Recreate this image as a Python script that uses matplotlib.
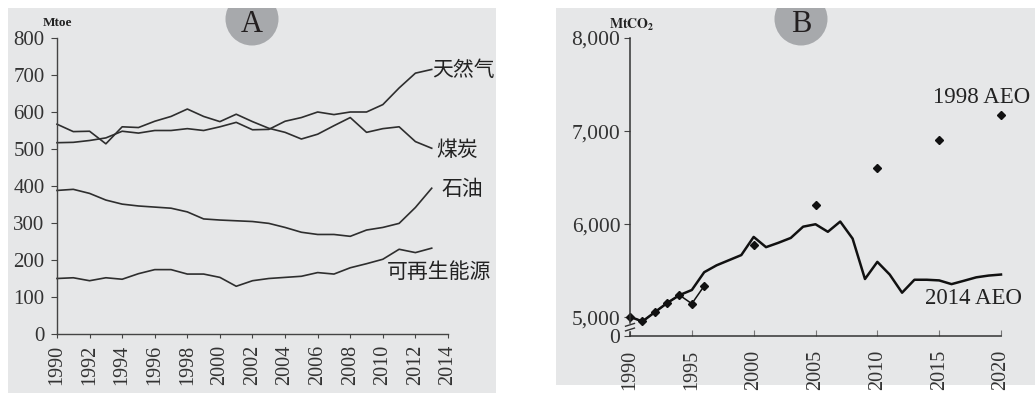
import numpy as np
import matplotlib
matplotlib.use("Agg")
import matplotlib.pyplot as plt
from matplotlib.patches import Rectangle, Circle

plt.rcParams['mathtext.fontset'] = 'stix'

# panel A: energy use (Mtoe)
years_a = list(range(1990, 2014))
gas = [517, 518, 523, 530, 548, 543, 550, 550, 555, 550, 560, 572,
       552, 553, 575, 585, 600, 593, 600, 600, 620, 665, 705, 715]
coal = [567, 547, 548, 514, 560, 558, 575, 588, 608, 588, 574, 594,
        574, 556, 545, 527, 540, 563, 585, 545, 555, 560, 520, 502]
oil = [388, 391, 380, 362, 351, 346, 343, 340, 330, 311, 308, 306,
       304, 299, 288, 275, 269, 269, 264, 281, 288, 299, 342, 394]
renew = [150, 152, 144, 152, 148, 163, 174, 174, 162, 162, 153, 129,
         144, 150, 153, 156, 166, 162, 179, 190, 202, 229, 220, 232]
labels_a = ['天然气', '煤炭', '石油', '可再生能源']
xticks_a = list(range(1990, 2015, 2))
yticks_a = list(range(0, 801, 100))

# panel B: CO2 emissions (MtCO2)
years_b = list(range(1990, 2021))
aeo2014 = [5007, 4956, 5055, 5154, 5239, 5294, 5485, 5559, 5614, 5669, 5864,
           5754, 5801, 5853, 5974, 6000, 5919, 6029, 5846, 5412, 5596, 5460,
           5265, 5404, 5404, 5397, 5357, 5393, 5430, 5449, 5460]
years_1998_hist = [1990, 1991, 1992, 1993, 1994, 1995, 1996]
aeo1998_hist = [5007, 4956, 5055, 5154, 5239, 5147, 5338]
years_1998_proj = [2000, 2005, 2010, 2015, 2020]
aeo1998_proj = [5772, 6202, 6606, 6904, 7173]
xticks_b = [1990, 1995, 2000, 2005, 2010, 2015, 2020]
yticks_b = [4800, 5000, 6000, 7000, 8000]
yticklabels_b = ['0', '5,000', '6,000', '7,000', '8,000']

W, H = 1035, 395
bg = '#e6e7e8'
ink = '#2e2e2e'
serif = 'Liberation Serif'
cjk = ['Noto Sans CJK SC', 'DejaVu Sans']

fig = plt.figure(figsize=(W / 100, H / 100), dpi=100)


def fx(px):
    return px / W


def fy(py):
    return (H - py) / H


# gray panels
rect_a = Rectangle((fx(8), fy(393)), fx(496) - fx(8), fy(8) - fy(393),
                   transform=fig.transFigure, facecolor=bg, edgecolor='none', zorder=-3)
rect_b = Rectangle((fx(556), fy(385)), fx(1035) - fx(556), fy(8) - fy(385),
                   transform=fig.transFigure, facecolor=bg, edgecolor='none', zorder=-3)
fig.patches.extend([rect_a, rect_b])

# badges
for cx, letter, rect in [(252, 'A', rect_a), (801, 'B', rect_b)]:
    c = Circle((cx / 100, (H - 19) / 100), 0.265, transform=fig.dpi_scale_trans,
               facecolor='#a7a9ac', edgecolor='none', zorder=-2)
    c.set_clip_path(rect)
    fig.patches.append(c)
    fig.text(fx(cx), fy(25), letter, ha='center', va='center', fontsize=22,
             family=serif, color='#231f20', zorder=2)

# ---- panel A ----
axA = fig.add_axes([fx(57), fy(334), fx(448) - fx(57), fy(38) - fy(334)])
axA.set_facecolor('none')
for s in [gas, coal, oil, renew]:
    axA.plot(years_a, s, color=ink, lw=1.2, clip_on=False)
axA.set_xlim(1990, 2014)
axA.set_ylim(0, 800)
axA.set_xticks(xticks_a)
axA.set_yticks(yticks_a)
axA.set_xticklabels([str(t) for t in xticks_a], rotation=90, family=serif, fontsize=14.5)
axA.set_yticklabels([str(t) for t in yticks_a], family=serif, fontsize=15)
axA.tick_params(axis='y', direction='out', length=4, pad=5, color='#444444', labelcolor='#333333')
axA.tick_params(axis='x', direction='out', length=3, pad=5, color='#444444', labelcolor='#333333')
for side in ['top', 'right']:
    axA.spines[side].set_visible(False)
for side in ['left', 'bottom']:
    axA.spines[side].set_color('#444444')
    axA.spines[side].set_linewidth(1.0)

axA.text(2013.05, 713, labels_a[0], ha='left', va='center', fontsize=15, family=cjk, color='#222222')
axA.text(2013.3, 497, labels_a[1], ha='left', va='center', fontsize=15, family=cjk, color='#222222')
axA.text(2013.6, 393, labels_a[2], ha='left', va='center', fontsize=15, family=cjk, color='#222222')
axA.text(2010.25, 168, labels_a[3], ha='left', va='center', fontsize=15, family=cjk, color='#222222')
fig.text(fx(57), fy(23), 'Mtoe', ha='center', va='center', fontsize=9.5,
         family=serif, weight='bold', color='#222222')

# ---- panel B ----
axB = fig.add_axes([fx(630), fy(336), fx(1001) - fx(630), fy(38) - fy(336)])
axB.set_facecolor('none')
axB.plot(years_b, aeo2014, color='#111111', lw=1.8, clip_on=False)
axB.plot(years_1998_hist, aeo1998_hist, color='#111111', lw=1.1, marker='D',
         markersize=4, clip_on=False)
axB.plot(years_1998_proj, aeo1998_proj, ls='none', color='#111111', marker='D',
         markersize=4, clip_on=False)
axB.set_xlim(1990, 2020)
axB.set_ylim(4800, 8000)
axB.set_xticks(xticks_b)
axB.set_yticks(yticks_b)
axB.set_xticklabels([str(t) for t in xticks_b], rotation=90, family=serif, fontsize=14.5)
axB.set_yticklabels(yticklabels_b, family=serif, fontsize=15.5)
axB.tick_params(axis='y', direction='out', length=4, pad=3, color='#444444', labelcolor='#333333')
axB.tick_params(axis='x', direction='in', length=4, pad=10, color='#777777', labelcolor='#333333')
for side in ['top', 'right']:
    axB.spines[side].set_visible(False)
for side in ['left', 'bottom']:
    axB.spines[side].set_color('#333333')
    axB.spines[side].set_linewidth(1.1)

# axis break marks
axB.plot([0, 0], [4875, 4915], transform=axB.get_yaxis_transform(), color=bg, lw=2.5,
         clip_on=False, zorder=3)
for yb in [4870, 4920]:
    axB.plot([-0.012, 0.012], [yb - 15, yb + 15], transform=axB.get_yaxis_transform(),
             color='#333333', lw=1.0, clip_on=False, zorder=4)

axB.text(2014.5, 7366, '1998 AEO', ha='left', va='center', fontsize=16.5, family=serif, color='#222222')
axB.text(2013.85, 5204, '2014 AEO', ha='left', va='center', fontsize=16.5, family=serif, color='#222222')
fig.text(fx(632), fy(25), r'$\mathbf{MtCO_2}$', ha='center', va='center', fontsize=10, color='#222222')

fig.savefig('out.png', dpi=100)
